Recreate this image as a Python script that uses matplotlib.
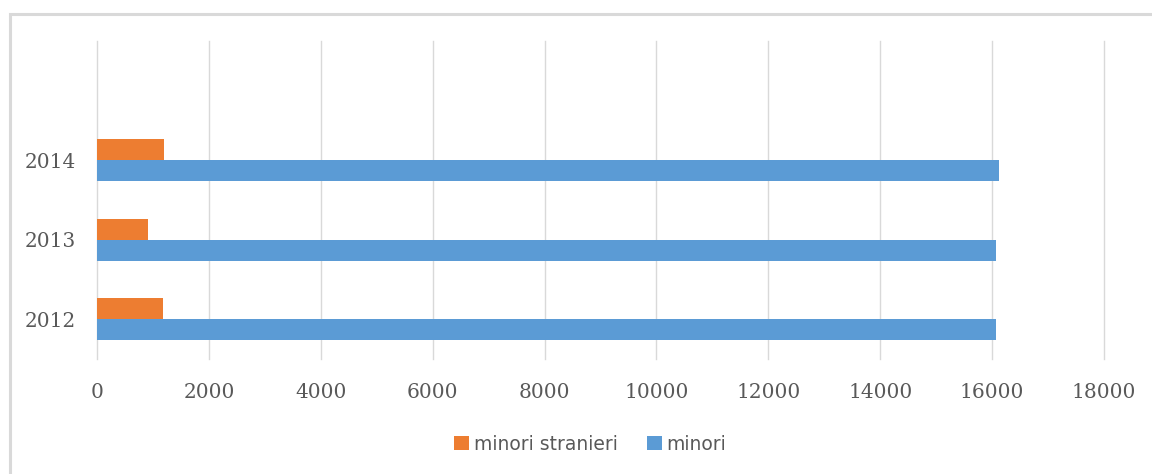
import matplotlib
matplotlib.use("Agg")
import matplotlib.pyplot as plt
from matplotlib.patches import Rectangle
import numpy as np

categories = ["2012", "2013", "2014"]
minori_stranieri = [1180, 910, 1200]
minori = [16070, 16070, 16120]
xticks = [0, 2000, 4000, 6000, 8000, 10000, 12000, 14000, 16000, 18000]

W, H = 1152, 474
fig = plt.figure(figsize=(W / 100, H / 100), dpi=100)
fig.patch.set_facecolor("white")

# outer chart border
fig.patches.append(Rectangle((9.5 / W, -0.1), 1.2, 1 - 13.5 / H + 0.1,
                             transform=fig.transFigure, fill=False,
                             edgecolor="#d9d9d9", linewidth=2.2, zorder=0))

ax = fig.add_axes([97 / W, 1 - 359 / H, (1104 - 97) / W, (359 - 41) / H])
y = np.arange(len(categories))
h = 0.264
ax.barh(y + h / 2, minori_stranieri, height=h, color="#ED7D31", label="minori stranieri", zorder=3)
ax.barh(y - h / 2, minori, height=h, color="#5B9BD5", label="minori", zorder=3)

ax.set_xlim(0, 18000)
ax.set_ylim(-0.5, 3.5)
ax.set_xticks(xticks)
ax.set_xticklabels([str(v) for v in xticks])
ax.set_yticks(y)
ax.set_yticklabels(categories)
ax.grid(axis="x", color="#d9d9d9", linewidth=1.0, zorder=0)
ax.grid(axis="y", visible=False)
for gl in ax.get_xgridlines():
    gl.set_clip_on(False)
for s in ax.spines.values():
    s.set_visible(False)
ax.tick_params(axis="both", length=0, colors="#595959", labelsize=14.5)
for lab in ax.get_xticklabels() + ax.get_yticklabels():
    lab.set_family("DejaVu Serif")
ax.tick_params(axis="x", pad=17)
ax.tick_params(axis="y", pad=15.5)

leg = fig.legend(loc="center", bbox_to_anchor=(590 / W, 1 - 444 / H), ncol=2,
                 frameon=False, fontsize=13.5, handlelength=0.8, handleheight=0.8,
                 handletextpad=0.27, columnspacing=1.55)
for t in leg.get_texts():
    t.set_color("#595959")

fig.savefig("out.png", dpi=100, facecolor="white")
